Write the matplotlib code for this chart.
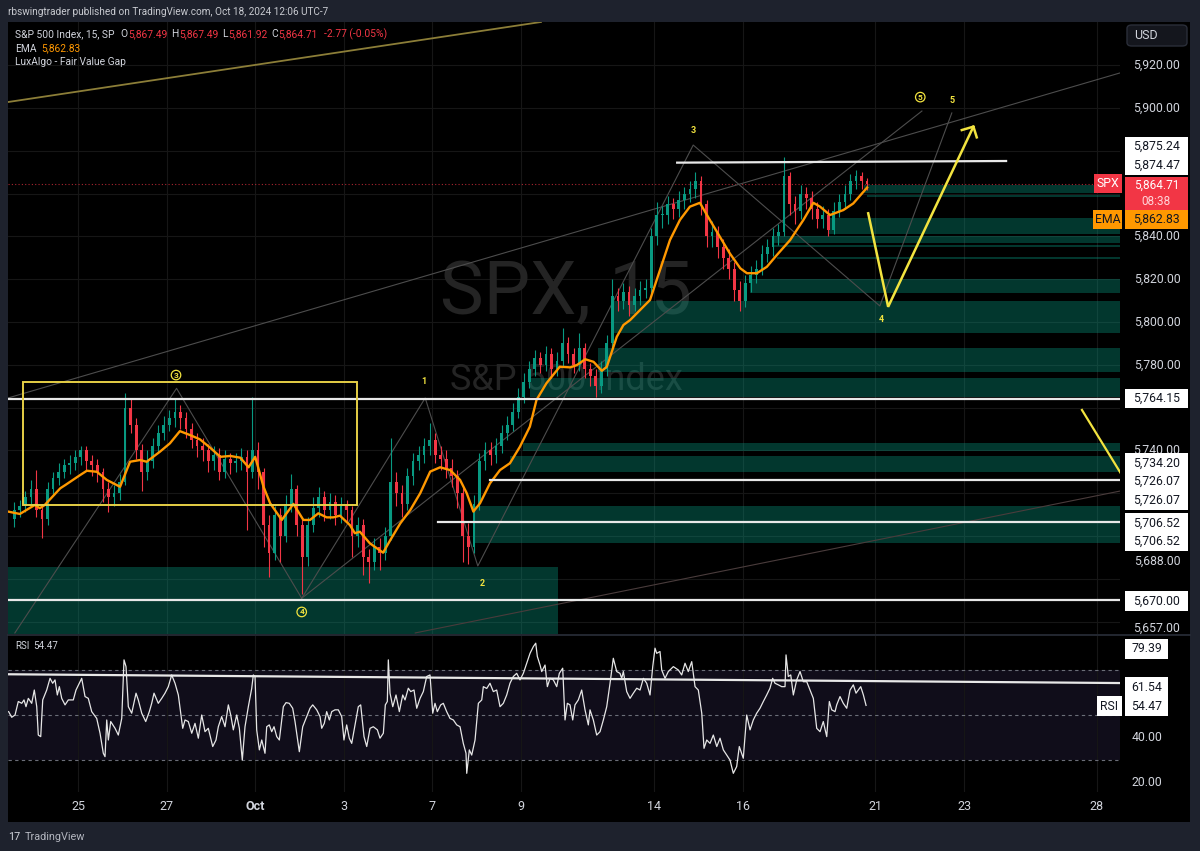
import matplotlib
matplotlib.use("Agg")
import matplotlib.pyplot as plt
from matplotlib.patches import Rectangle, FancyBboxPatch
from matplotlib.transforms import blended_transform_factory
import numpy as np

plt.rcParams['font.family'] = ['Roboto', 'DejaVu Sans']

# ---------------- data (15-min SPX, resampled ~8 bars per session) ----------------
first_open = 5708.0
closes = [5712,5714,5718,5722,5712,5708,5722,5727,5730,5733,
          5734,5737,5740,5735,5733,5730,5722,5718,5720,5725,
          5760,5752,5740,5730,5735,5742,5748,5752,5755,5758,
          5755,5750,5745,5742,5740,5735,5738,5730,5736,5734,
          5735,5737,5730,5740,5730,5705,5692,5710,5700,5715,
          5722,5705,5690,5705,5713,5718,5712,5716,5710,5714,
          5712,5700,5705,5690,5688,5695,5692,5700,5725,5720,
          5715,5728,5735,5738,5742,5745,5738,5736,5732,5728,
          5720,5700,5695,5715,5735,5740,5738,5742,5748,5752,
          5758,5765,5772,5778,5783,5780,5785,5778,5782,5790,
          5785,5780,5788,5778,5775,5770,5778,5790,5812,5810,
          5814,5808,5812,5815,5816,5840,5850,5850,5855,5853,
          5857,5860,5862,5866,5855,5840,5842,5835,5830,5825,
          5815,5810,5818,5822,5825,5832,5835,5840,5842,5868,
          5855,5852,5860,5858,5853,5848,5850,5843,5852,5856,
          5860,5866,5868,5866,5864.71]
highs = [5716,5717,5721,5726,5731,5715,5725,5730,5734,5736,
         5738,5740,5742,5742,5738,5736,5732,5725,5724,5729,
         5767,5764,5755,5743,5740,5746,5752,5756,5759,5764,
         5761,5758,5753,5748,5746,5743,5742,5741,5740,5739,
         5739,5741,5740,5765,5744,5732,5710,5714,5713,5719,
         5729,5724,5708,5709,5718,5723,5721,5720,5719,5718,
         5717,5714,5709,5708,5694,5699,5699,5704,5746,5730,
         5724,5732,5739,5742,5746,5753,5748,5742,5740,5736,
         5731,5723,5706,5719,5739,5744,5744,5746,5752,5756,
         5762,5769,5776,5782,5787,5786,5789,5788,5786,5797,
         5793,5788,5795,5790,5781,5778,5782,5794,5820,5816,
         5818,5817,5816,5819,5820,5844,5856,5854,5859,5858,
         5861,5863,5866,5870,5868,5857,5847,5845,5839,5834,
         5828,5819,5822,5826,5829,5836,5839,5844,5846,5877,
         5870,5859,5864,5863,5861,5856,5854,5853,5856,5860,
         5864,5869,5871,5870,5867.49]
lows = [5704,5709,5711,5715,5709,5699,5705,5719,5724,5727,
        5729,5731,5733,5731,5728,5725,5716,5711,5714,5717,
        5724,5748,5736,5721,5726,5732,5739,5745,5749,5751,
        5750,5746,5741,5737,5735,5730,5731,5726,5727,5729,
        5730,5731,5703,5727,5722,5695,5681,5689,5688,5697,
        5711,5700,5673,5686,5702,5709,5707,5708,5705,5706,
        5707,5690,5695,5682,5678,5684,5684,5689,5698,5714,
        5709,5712,5724,5731,5734,5738,5734,5731,5727,5723,
        5713,5688,5687,5692,5712,5731,5733,5734,5739,5745,
        5749,5755,5762,5769,5775,5776,5777,5774,5775,5779,
        5781,5776,5777,5774,5770,5765,5767,5775,5788,5805,
        5806,5803,5805,5808,5811,5813,5836,5844,5846,5848,
        5849,5853,5856,5858,5850,5835,5835,5830,5825,5820,
        5810,5805,5807,5814,5818,5822,5828,5831,5836,5840,
        5850,5846,5848,5853,5848,5844,5844,5840,5841,5849,
        5853,5857,5862,5862,5861.92]

ema_x = [-1.1,1.0,3.7,4.6,5.5,8.3,9.2,11.9,13.1,14.9,16.7,19.1,20.9,22.7,23.9,26.3,28.1,29.9,
         31.7,33.5,35.3,37.2,39.0,40.8,42.3,43.5,45.0,46.2,48.3,50.4,52.2,53.4,54.9,56.4,57.6,
         58.8,60.6,61.5,62.4,64.2,66.6,67.9,69.7,71.5,73.3,75.1,76.9,78.7,80.5,81.7,82.9,84.1,
         85.9,87.7,89.5,91.3,93.1,94.3,96.1,98.5,100.4,101.6,103.1,104.6,106.1,107.0,107.6,
         108.8,110.0,111.2,114.8,116.6,118.4,120.2,122.0,123.8,125.6,127.4,129.2,131.1,132.3,
         134.1,135.9,137.7,140.1,142.5,144.3,145.5,147.3,149.7,151.5,154.0]
ema_v = [5711.4,5710.3,5714.5,5713.0,5714.5,5722.3,5723.8,5728.5,5730.5,5730.0,5726.2,5723.0,
         5734.7,5735.5,5734.7,5739.4,5743.3,5749.0,5747.2,5745.2,5741.4,5737.0,5737.4,5736.6,
         5732.1,5737.0,5723.0,5715.3,5707.5,5715.0,5707.5,5707.5,5710.6,5708.7,5708.7,5709.5,
         5705.1,5701.3,5702.0,5696.6,5692.2,5698.1,5705.9,5712.1,5720.0,5730.1,5732.1,5730.8,
         5726.2,5720.0,5711.4,5715.3,5724.6,5730.8,5734.0,5741.7,5751.1,5763.6,5771.4,5779.1,
         5778.8,5779.9,5782.6,5781.4,5777.2,5779.1,5783.8,5793.1,5798.6,5800.9,5810.3,5824.3,
         5838.3,5847.7,5853.9,5855.7,5847.7,5839.9,5832.1,5825.1,5822.8,5822.8,5825.8,5831.3,
         5838.3,5847.7,5855.7,5853.9,5850.0,5852.3,5855.4,5862.83]

rsi_x = [-1.03,-0.47,0.13,0.72,1.34,1.75,2.11,2.53,3.14,3.61,4.05,4.33,4.77,5.13,5.85,6.45,6.93,
         7.35,7.77,8.13,8.56,9.16,9.75,10.65,11.14,12.17,12.77,13.36,13.98,14.88,15.48,16.07,
         16.38,16.69,16.98,17.41,18.19,18.78,19.4,19.81,20.17,20.59,21.2,21.98,22.39,23.01,
         23.73,24.38,24.81,25.23,26.0,26.62,27.21,27.81,28.42,29.02,29.62,30.41,30.83,31.42,
         32.04,32.63,33.23,33.84,34.44,35.03,35.83,36.42,36.84,37.45,38.05,38.65,39.08,39.55,
         40.16,40.64,41.17,41.66,42.26,42.87,43.16,43.47,43.77,44.25,44.68,45.27,45.58,46.05,
         46.48,46.9,47.39,47.86,48.58,49.07,49.66,50.09,50.27,50.69,51.47,52.08,52.68,53.4,
         53.89,54.61,55.21,55.51,55.98,56.41,56.89,57.32,57.91,58.51,59.12,59.53,60.02,60.49,
         60.93,61.52,62.12,62.55,63.15,63.64,64.24,64.83,65.56,66.04,66.64,67.0,67.36,67.54,
         67.85,68.34,68.93,69.53,70.14,70.56,71.15,71.58,72.18,72.67,73.27,73.86,74.47,75.07,
         75.56,75.97,76.39,77.0,77.47,78.08,78.68,79.28,79.89,80.49,81.08,81.57,81.7,82.17,
         82.6,83.2,83.8,84.41,84.7,85.31,85.9,86.5,87.11,87.71,88.31,88.92,89.51,90.11,90.72,
         91.32,91.92,92.53,93.13,93.73,94.16,94.45,94.94,95.24,95.84,96.26,96.74,97.34,97.95,
         98.42,99.03,99.45,99.87,100.35,100.84,101.25,101.85,102.46,103.06,103.66,103.96,
         104.56,105.17,105.77,106.37,106.98,107.58,108.17,108.79,109.38,109.69,109.98,110.59,
         111.19,111.79,112.4,113.0,113.6,114.2,114.8,115.29,115.7,116.01,116.6,116.91,117.51,
         118.1,119.01,119.91,120.52,121.12,121.71,122.33,122.93,123.52,124.14,124.55,125.04,
         125.63,126.23,126.85,127.44,128.04,128.65,129.24,129.84,130.45,130.92,131.64,132.26,
         132.86,133.45,134.06,134.66,135.26,135.87,136.46,136.95,137.37,137.97,138.58,139.18,
         139.36,139.77,140.21,140.68,141.29,141.89,142.48,143.1,143.69,144.29,144.9,145.5,
         146.09,146.71,147.18,147.61,148.21,148.51,149.11,149.7,150.32,150.92,151.51,152.0,
         152.42,152.85,153.33,153.81]
rsi_v = [51.7,49.2,50.2,56.2,55.4,56.9,53.9,57.6,55.4,61.3,53.9,41.3,40.6,56.9,61.3,66.5,64.3,
         65.8,59.1,62.8,57.6,54.7,56.9,56.9,61.3,66.5,58.4,57.6,51.7,48.7,42.1,33.2,
         31.7,48.0,39.1,47.3,44.3,41.3,48.7,74.7,71.7,53.9,51.0,59.9,56.9,51.0,
         47.3,51.7,55.4,59.9,55.4,57.6,59.9,62.8,68.0,64.3,59.1,44.3,48.0,47.3,
         42.1,46.5,39.9,50.2,42.8,44.3,36.2,39.1,45.0,49.5,45.0,54.7,50.2,43.6,
         50.2,44.3,30.2,45.0,53.9,62.0,68.0,67.3,43.6,34.7,39.1,33.2,45.0,45.8,
         42.8,45.0,40.6,39.1,53.9,55.7,55.4,53.9,53.2,47.3,33.9,45.0,48.7,53.2,
         54.7,52.5,49.5,44.3,46.5,51.7,48.0,51.7,52.5,52.5,49.5,39.1,45.8,39.9,
         37.6,45.8,53.9,54.7,40.6,36.2,44.3,45.0,43.6,39.9,42.1,54.7,56.2,74.7,
         59.9,53.9,59.1,51.7,59.1,56.9,62.1,60.6,61.3,53.2,57.6,60.6,67.3,68.0,
         51.0,55.4,51.7,54.7,55.4,51.7,48.7,48.0,45.8,45.0,37.6,33.2,24.3,34.7,
         32.4,39.1,55.4,56.9,62.8,62.0,64.3,60.6,61.3,53.9,55.4,59.1,64.3,67.3,68.7,
         65.8,68.7,73.2,77.6,80.6,82.1,76.2,72.4,69.5,72.4,62.8,66.5,65.8,62.8,
         68.7,71.0,48.0,55.4,54.7,48.0,54.7,56.9,61.3,52.5,45.8,52.5,
         48.0,41.3,42.8,48.0,53.9,64.3,75.4,69.5,68.7,66.5,69.5,60.6,
         57.6,59.9,62.1,61.3,66.5,64.3,59.1,71.7,79.9,77.6,78.4,70.2,66.5,
         69.5,71.7,70.2,68.0,73.2,69.5,73.9,62.8,61.3,51.0,35.4,39.1,
         37.6,41.3,36.2,39.9,34.7,32.4,30.2,24.3,27.3,36.2,31.0,50.2,
         43.6,48.0,51.0,53.2,56.2,59.1,62.1,66.5,64.3,63.6,62.8,62.8,
         76.9,67.3,68.0,59.1,65.8,69.5,65.0,65.0,61.3,57.6,44.3,42.8,
         47.3,40.6,56.2,52.5,51.7,54.7,58.4,55.4,53.2,61.3,63.6,59.9,
         61.3,62.8,59.1,54.47]

tick_day = [0, 2, 4, 6, 8, 10, 13, 15, 18, 20, 23]
tick_lab = ['25', '27', 'Oct', '3', '7', '9', '14', '16', '21', '23', '28']
price_ticks = [5920, 5900, 5840, 5820, 5800, 5780, 5740, 5688, 5657]

# Fair value gaps: start bar, bottom, top, end bar (None = open to the right)
fvg_start = [153.5, 154.0, 147.1, 137.0, 137.0, 137.7, 132.9, 107.9, 105.4, 93.1, 91.9, 89.5, 83.2, -1.2]
fvg_bot = [5860.4, 5858.4, 5841.1, 5837.1, 5835.0, 5829.4, 5813.6, 5794.9, 5776.6, 5765.0, 5739.7, 5730.0, 5696.9, 5640.0]
fvg_top = [5863.8, 5859.3, 5848.5, 5840.3, 5836.0, 5830.5, 5819.9, 5810.0, 5787.9, 5773.8, 5743.5, 5737.5, 5714.2, 5685.7]
fvg_end = [None]*13 + [98.2]

# horizontal levels: start bar, end bar, price at start, price at end
lvl_start = [-1.2, -1.2, 85.9, 76.5, 119.7]
lvl_end = [None, None, None, None, 179.1]
lvl_p0 = [5764.15, 5670.0, 5726.07, 5706.52, 5874.47]
lvl_p1 = [5764.15, 5670.0, 5726.07, 5706.52, 5875.24]

# Elliott wave pivots
circ_wave_x = [0.1, 29.3, 51.9, 163.9]
circ_wave_p = [5654.7, 5769.0, 5670.9, 5898.6]
sub_wave_x = [51.9, 74.2, 83.7, 122.6, 156.3, 169.3]
sub_wave_p = [5670.9, 5764.5, 5686.0, 5882.7, 5807.5, 5897.7]
proj_x = [154.2, 157.8, 173.2]
proj_p = [5850.8, 5807.1, 5891.3]

last_price = 5864.71
last_ema = 5862.83

# ---------------- layout ----------------
W, H = 1200, 851
L, R = 8, 1120
BARS_PER_DAY = 8
DAY0 = 11.5
XMIN, XMAX = -1.14, 199.67

def fx(px): return px / W
def fy(py): return 1 - py / H

BG = '#1e222d'
fig = plt.figure(figsize=(12, 8.51), dpi=100, facecolor=BG)
fig.add_artist(Rectangle((fx(8), fy(822)), fx(1190) - fx(8), fy(22) - fy(822),
                         transform=fig.transFigure, fc='black', ec='none', zorder=-10))

ax = fig.add_axes([fx(L), fy(634), fx(R) - fx(L), fy(22) - fy(634)])
axr = fig.add_axes([fx(L), fy(792), fx(R) - fx(L), fy(636) - fy(792)])
for a in (ax, axr):
    a.set_facecolor('black')
    for s in a.spines.values():
        s.set_visible(False)
    a.set_xticks([]); a.set_yticks([])
    a.set_xlim(XMIN, XMAX)
ax.set_ylim(5654.2, 5940.2)
axr.set_ylim(16.0, 85.3)
PX_MAIN = 612 / (5940.2 - 5654.2)
PX_RSI = 156 / (85.3 - 16.0)

tick_pos = [DAY0 + BARS_PER_DAY * d for d in tick_day]
GRID = '#161616'
for tp in tick_pos:
    ax.axvline(tp, color=GRID, lw=0.8, zorder=0.2)
    axr.axvline(tp, color=GRID, lw=0.8, zorder=0.2)
for p in range(5660, 5940, 20):
    ax.axhline(p, color=GRID, lw=0.8, zorder=0.2)

# watermark
ax.text(0.502, 0.555, 'SPX, 15', transform=ax.transAxes, fontsize=53, color='#242424',
        ha='center', va='center', zorder=0.5)
ax.text(0.502, 0.415, 'S&P 500 Index', transform=ax.transAxes, fontsize=26, color='#242424',
        ha='center', va='center', zorder=0.5)

# FVG boxes (semi-transparent teal)
for s, b, t, e in zip(fvg_start, fvg_bot, fvg_top, fvg_end):
    end = XMAX + 1 if e is None else e
    ax.add_patch(Rectangle((s, b), end - s, t - b, fc='#089981', alpha=0.36, ec='none', zorder=1))

# candles
c = np.array(closes, float)
o = np.concatenate([[first_open], c[:-1]])
hi = np.array(highs, float); lo = np.array(lows, float)
x = np.arange(len(c))
up = c >= o
cols = np.where(up, '#089981', '#f23645')
ax.vlines(x, lo, hi, colors=cols, lw=0.8, zorder=3)
ax.bar(x, np.maximum(np.abs(c - o), 0.6), bottom=np.minimum(o, c), width=0.5,
       color=cols, lw=0, zorder=3)

# EMA
ax.plot(ema_x, ema_v, color='#ff9800', lw=1.7, zorder=4, solid_joinstyle='round')

# last price dotted line
ax.axhline(last_price, color='#f23645', lw=0.8, ls=(0, (1, 2)), alpha=0.7, zorder=2)

# levels
for s, e, p0, p1 in zip(lvl_start, lvl_end, lvl_p0, lvl_p1):
    end = XMAX + 1 if e is None else e
    ax.plot([s, end], [p0, p1], color='#e8e8e8', lw=1.6, zorder=5)

# thin drawing lines (channels / waves)
ax.plot([-1.14, 199.67], [5764.5, 5916.4], color='#4d4d4d', lw=0.8, zorder=2)
ax.plot([72.4, 199.67], [5654.7, 5721.0], color='#4a3c3c', lw=0.8, zorder=2)
ax.plot([-1.14, 95.1], [5902.8, 5940.2], color='#8c7e38', lw=1.3, zorder=2)
ax.plot(circ_wave_x, circ_wave_p, color='#4d4d4d', lw=0.8, zorder=2)
ax.plot(sub_wave_x, sub_wave_p, color='#4d4d4d', lw=0.8, zorder=2)

YEL = '#f2e33f'
# yellow box
ax.add_patch(Rectangle((1.52, 5714.5), 61.94 - 1.52, 5772.1 - 5714.5, fc='none',
                       ec='#e6cf45', lw=1.4, zorder=5))
# projection
ax.plot(proj_x, proj_p, color=YEL, lw=1.8, zorder=6, solid_joinstyle='miter')
ax.plot([171.1, 173.2, 173.8], [5889.7, 5891.3, 5886.3], color=YEL, lw=1.8, zorder=6)
ax.plot([192.8, 200.0], [5758.9, 5728.5], color=YEL, lw=1.6, zorder=6)

# wave labels
for lab, xx, pp in [('3', 29.2, 5775.2), ('4', 51.9, 5664.5), ('5', 163.6, 5905.1)]:
    ax.text(xx, pp, lab, color=YEL, fontsize=6, ha='center', va='center', zorder=7,
            fontweight='bold',
            bbox=dict(boxstyle='circle,pad=0.15', fc='none', ec=YEL, lw=0.9))
for lab, xx, pp in [('1', 74.0, 5772.4), ('2', 84.5, 5678.0), ('3', 122.6, 5889.3),
                    ('4', 156.5, 5801.0), ('5', 169.3, 5903.3)]:
    ax.text(xx, pp, lab, color=YEL, fontsize=6.5, ha='center', va='center', zorder=7,
            fontweight='bold')

# RSI pane
axr.axhspan(30, 70, color='#100d1a', zorder=0.1, lw=0)
for lv in (70, 50, 30):
    axr.axhline(lv, color='#6b6e78', lw=0.8, ls=(0, (3, 3)), zorder=0.3)
axr.plot(rsi_x, rsi_v, color='#e6e6e6', lw=0.9, zorder=3)
axr.plot([-1.14, 199.67], [68.3, 64.4], color='#e8e8e8', lw=1.6, zorder=4)

# ---------------- price axis labels ----------------
TXT = '#d1d4dc'
trm = blended_transform_factory(ax.transAxes, ax.transData)
trr = blended_transform_factory(axr.transAxes, axr.transData)
def axf(px):
    return (px - L) / (R - L)

for p in price_ticks:
    ax.text(axf(1157), p, f"{p:,.2f}", transform=trm, ha='center', va='center',
            color=TXT, fontsize=8.8, clip_on=False, zorder=8)

def box(a, tr, scale, yc, lines, fc, tc, x0=1125, x1=1188, lh=18.5, fs=8.8, colors=None):
    n = len(lines)
    h = (n * lh + 1) / scale
    a.add_patch(Rectangle((axf(x0), yc - h / 2), axf(x1) - axf(x0), h, transform=tr,
                          fc=fc, ec='none', clip_on=False, zorder=10))
    for i, s in enumerate(lines):
        yy = yc + ((n - 1) / 2 - i) * lh / scale
        col = tc if colors is None else colors[i]
        a.text(axf((x0 + x1) / 2), yy, s, transform=tr, ha='center', va='center',
               color=col, fontsize=fs, clip_on=False, zorder=11)

DARK = '#131722'
box(ax, trm, PX_MAIN, 5877.7, ['5,875.24', '5,874.47'], 'white', DARK)
box(ax, trm, PX_MAIN, 5764.15, ['5,764.15'], 'white', DARK)
box(ax, trm, PX_MAIN, 5725.4, ['5,734.20', '5,726.07', '5,726.07'], 'white', DARK)
box(ax, trm, PX_MAIN, 5701.7, ['5,706.52', '5,706.52'], 'white', DARK)
box(ax, trm, PX_MAIN, 5669.6, ['5,670.00'], 'white', DARK)
box(ax, trm, PX_MAIN, 5860.1, [f"{last_price:,.2f}", '08:38'], '#f23645', 'white',
    lh=16, fs=8.5, colors=['white', '#ffd6da'])
box(ax, trm, PX_MAIN, 5864.7, ['SPX'], '#f23645', 'white', x0=1094, x1=1122)
box(ax, trm, PX_MAIN, 5847.9, [f"{last_ema:,.2f}"], '#ff9800', DARK)
box(ax, trm, PX_MAIN, 5847.9, ['EMA'], '#ff9800', DARK, x0=1093, x1=1122)

# RSI axis labels
for v in (40, 20):
    axr.text(axf(1147), v, f"{v:.2f}", transform=trr, ha='center', va='center',
             color=TXT, fontsize=8.8, clip_on=False, zorder=8)
box(axr, trr, PX_RSI, 79.6, ['79.39'], 'white', DARK, x0=1125, x1=1168)
box(axr, trr, PX_RSI, 62.6, ['61.54'], 'white', DARK, x0=1125, x1=1168)
box(axr, trr, PX_RSI, 54.2, ['54.47'], 'white', DARK, x0=1125, x1=1168)
box(axr, trr, PX_RSI, 54.2, ['RSI'], 'white', DARK, x0=1097, x1=1122)

# x axis labels
trx = blended_transform_factory(axr.transData, fig.transFigure)
for tp, lab in zip(tick_pos, tick_lab):
    axr.text(tp, fy(807), lab, transform=trx, ha='center', va='center', color=TXT,
             fontsize=9, fontweight='bold' if lab == 'Oct' else 'normal', clip_on=False)

# pane separator
fig.add_artist(plt.Line2D([fx(8), fx(1190)], [fy(635), fy(635)], color='#2a2e39', lw=1.2,
                          transform=fig.transFigure))

# USD button
fig.add_artist(FancyBboxPatch((fx(1127), fy(46)), fx(1187) - fx(1127), fy(25) - fy(46),
                              boxstyle='round,pad=0,rounding_size=0.004',
                              transform=fig.transFigure, fc='#14161d', ec='#2a2e39', lw=1))
fig.text(fx(1146), fy(35.5), 'USD', color=TXT, fontsize=9, ha='center', va='center')

# header texts
renderer = fig.canvas.get_renderer()
def seq(parts, x0, ypx, fs):
    xx = x0
    for s, col, gap in parts:
        t = fig.text(fx(xx), fy(ypx), s, color=col, fontsize=fs, ha='left', va='center')
        bb = t.get_window_extent(renderer)
        xx = bb.x1 + gap

fig.text(fx(8), fy(12), 'rbswingtrader published on TradingView.com, Oct 18, 2024 12:06 UTC-7',
         color='#c8cad0', fontsize=7.2, ha='left', va='center')
RED = '#f23645'
seq([('S&P 500 Index, 15, SP', TXT, 6), ('O', TXT, 0.5), ('5,867.49', RED, 4),
     ('H', TXT, 0.5), ('5,867.49', RED, 4), ('L', TXT, 0.5), ('5,861.92', RED, 4),
     ('C', TXT, 0.5), ('5,864.71', RED, 6), ('-2.77 (-0.05%)', RED, 0)], 15, 34, 7.4)
seq([('EMA', TXT, 5), (f"{last_ema:,.2f}", '#ff9800', 0)], 15, 48.5, 7.4)
fig.text(fx(15), fy(62), 'LuxAlgo - Fair Value Gap', color=TXT, fontsize=7.4, ha='left', va='center')
seq([('RSI', TXT, 4), ('54.47', TXT, 0)], 15, 646, 7.0)

# footer logo
seq([('17', '#d1d4dc', 4), ('TradingView', '#b2b5be', 0)], 8, 837.5, 7.8)

fig.savefig('out.png', dpi=100, facecolor=BG)
